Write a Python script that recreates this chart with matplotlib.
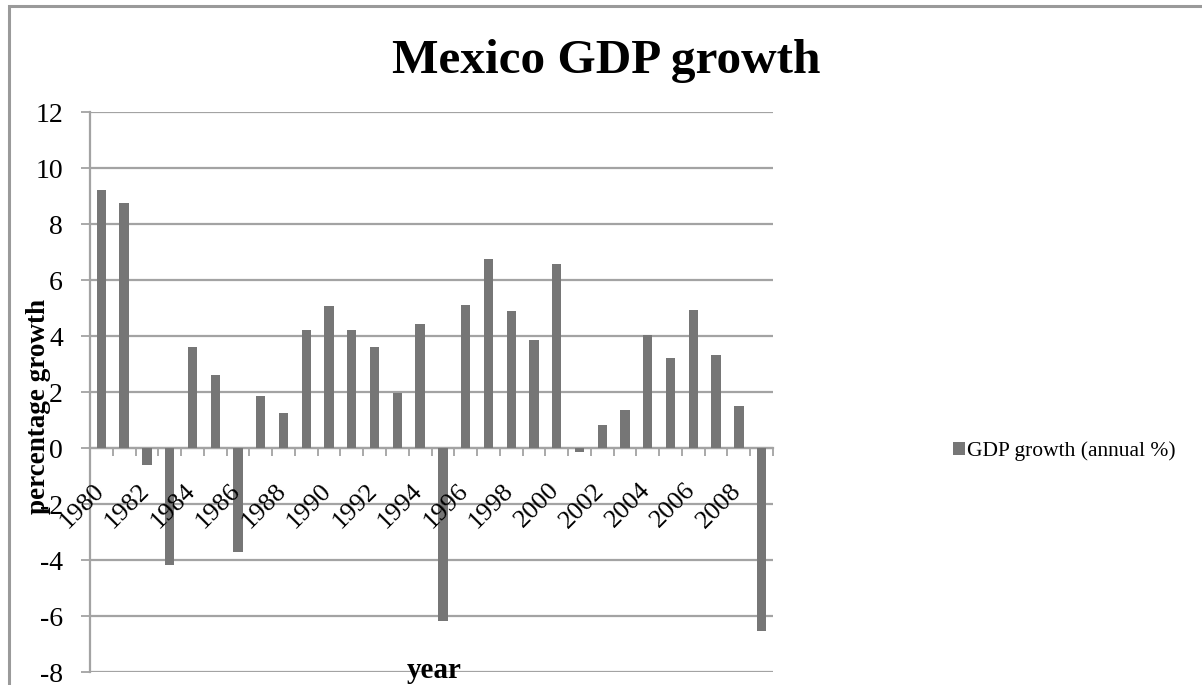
import matplotlib
matplotlib.use("Agg")
import matplotlib.pyplot as plt
from matplotlib.patches import Rectangle
from matplotlib.transforms import offset_copy

plt.rcParams["axes.unicode_minus"] = False

# Annual GDP growth of Mexico (%)
years = list(range(1980, 2010))
growth = [9.23, 8.75, -0.62, -4.17, 3.61, 2.60, -3.73, 1.87, 1.25, 4.20,
          5.06, 4.23, 3.62, 1.96, 4.44, -6.19, 5.12, 6.76, 4.90, 3.87,
          6.58, -0.14, 0.83, 1.36, 4.05, 3.20, 4.93, 3.33, 1.49, -6.52]
y_ticks = [-8, -6, -4, -2, 0, 2, 4, 6, 8, 10, 12]
series_name = "GDP growth (annual %)"

W, H = 1202, 685
BAR = "#767676"
GRID = "#a3a3a3"
SERIF = ["Liberation Serif", "DejaVu Serif"]

fig = plt.figure(figsize=(W / 100, H / 100), dpi=100)
fig.patch.set_facecolor("white")

left, right, top, bottom = 90, 773, 112, 672
ax = fig.add_axes([left / W, 1 - bottom / H, (right - left) / W, (bottom - top) / H])

x = list(range(len(years)))
bars = ax.bar(x, growth, width=0.41, color=BAR, zorder=3, label=series_name)

ax.set_xlim(-0.5, len(years) - 0.5)
ax.set_ylim(y_ticks[0], y_ticks[-1])

# horizontal gridlines
ax.set_yticks(y_ticks)
ax.yaxis.grid(True, color=GRID, linewidth=1.6, zorder=1)
ax.set_axisbelow(True)
ax.tick_params(axis="y", direction="out", length=6.5, width=1.3, color=GRID,
               pad=13, labelsize=20)
for lbl in ax.get_yticklabels():
    lbl.set_fontfamily(SERIF)

# spines: vertical axis on the left, category axis crossing at zero
for side in ("top", "right"):
    ax.spines[side].set_visible(False)
ax.spines["left"].set_color(GRID)
ax.spines["left"].set_linewidth(1.6)
ax.spines["bottom"].set_position(("data", 0))
ax.spines["bottom"].set_color(GRID)
ax.spines["bottom"].set_linewidth(1.6)

# category boundary tick marks below the zero line
ax.set_xticks([i - 0.5 for i in range(len(years) + 1)])
ax.set_xticklabels([])
ax.tick_params(axis="x", direction="out", length=5.5, width=1.3, color=GRID)

# rotated year labels for every second category
lab_tr = offset_copy(ax.transData, fig=fig, x=-1, y=-39, units="dots")
for i, yr in enumerate(years):
    if i % 2 == 0:
        ax.text(i, 0, str(yr), transform=lab_tr, rotation=45,
                rotation_mode="anchor", ha="right", va="center",
                fontsize=19, family=SERIF, clip_on=False)

# axis titles
fig.text(434 / W, 1 - 670 / H, "year", ha="center", va="center",
         fontsize=21, fontweight="bold", family=SERIF)
fig.text(39 / W, 1 - 406 / H, "percentage growth", ha="center", va="center",
         rotation=90, fontsize=19.5, fontweight="bold", family=SERIF)

# chart title
fig.text(606 / W, 1 - 73 / H, "Mexico GDP growth", ha="center", va="baseline",
         fontsize=35.5, fontweight="bold", family=SERIF)

# legend
leg = fig.legend(handles=[bars], labels=[series_name], loc="center left",
                 bbox_to_anchor=(953 / W, 1 - 451 / H), frameon=False,
                 handlelength=0.55, handleheight=0.55, handletextpad=0.1,
                 borderpad=0, borderaxespad=0,
                 prop={"family": SERIF, "size": 15.5})

# chart-area border
fig.add_artist(Rectangle((9 / W, -0.2), 1.5, 1.2 - 5.5 / H, transform=fig.transFigure,
                         fill=False, edgecolor="#9a9a9a", linewidth=2.2))

fig.savefig("out.png", dpi=100, facecolor="white")
